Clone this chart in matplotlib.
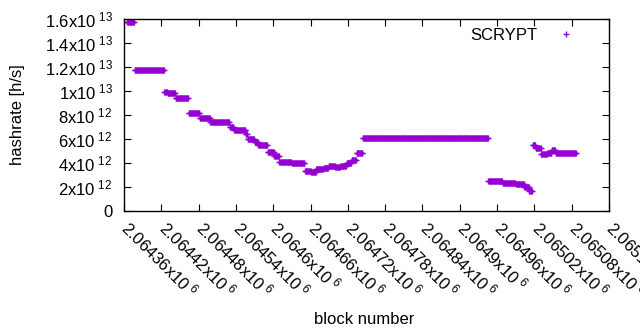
import numpy as np
import matplotlib
matplotlib.use("Agg")
import matplotlib.pyplot as plt
from matplotlib.lines import Line2D
from matplotlib.transforms import ScaledTranslation

plt.rcParams['font.family'] = ['Liberation Sans', 'DejaVu Sans']
plt.rcParams['mathtext.default'] = 'regular'

# Data: block ranges (offset from 2064360) with constant hashrate
base_block = 2064360
seg_start = [5, 17, 65, 70, 83, 104, 122, 139, 170, 177, 196, 199, 210, 216, 231, 242,
             250, 270, 291, 301, 309, 321, 329, 340, 348, 358, 366, 374, 384,
             586, 609, 630, 644, 652, 657, 662, 671, 681, 688, 694]
seg_end = [16, 64, 69, 82, 103, 121, 138, 169, 176, 195, 198, 209, 215, 230, 241, 249,
           269, 290, 300, 308, 320, 328, 339, 347, 357, 365, 373, 383, 585,
           608, 629, 643, 651, 656, 661, 670, 680, 687, 693, 727]
seg_value = [1.572e13, 1.1725e13, 9.95e12, 9.8e12, 9.39e12, 8.14e12, 7.72e12, 7.45e12,
             6.97e12, 6.75e12, 6.4e12, 5.97e12, 5.75e12, 5.5e12, 4.94e12, 4.55e12,
             4.1e12, 3.97e12, 3.36e12, 3.28e12, 3.5e12, 3.61e12, 3.78e12, 3.64e12,
             3.78e12, 3.97e12, 4.25e12, 4.8e12, 6.06e12,
             2.53e12, 2.36e12, 2.25e12, 1.97e12, 1.69e12, 5.47e12, 5.22e12, 4.72e12,
             4.83e12, 5.08e12, 4.83e12]

x_ticks = [2064360, 2064420, 2064480, 2064540, 2064600, 2064660, 2064720, 2064780,
           2064840, 2064900, 2064960, 2065020, 2065080, 2065140]
y_ticks = [0, 2e12, 4e12, 6e12, 8e12, 1e13, 1.2e13, 1.4e13, 1.6e13]

blocks = []
rates = []
for s, e, v in zip(seg_start, seg_end, seg_value):
    b = np.arange(s, e + 1) + base_block
    blocks.append(b)
    rates.append(np.full(len(b), v))
blocks = np.concatenate(blocks)
rates = np.concatenate(rates)

def sci(v):
    if v == 0:
        return "0"
    exp = int(np.floor(np.log10(abs(v)) + 1e-9))
    mant = v / 10 ** exp
    return f"{mant:.6g}x10$^{{\\ {exp}}}$"

color = '#9400d3'
fs = 12

fig = plt.figure(figsize=(6.4, 3.3), dpi=100)
ax = fig.add_axes([124 / 640, 1 - 211 / 330, (609 - 124) / 640, (211 - 19) / 330])

ax.plot(blocks, rates, linestyle='none', marker='+', color=color,
        markersize=5, markeredgewidth=1.0)

ax.set_xlim(x_ticks[0], x_ticks[-1])
ax.set_ylim(y_ticks[0], y_ticks[-1])

ax.set_yticks(y_ticks, [sci(v) for v in y_ticks], fontsize=fs)
ax.set_xticks(x_ticks, [sci(v) for v in x_ticks], fontsize=fs, rotation=-45,
              ha='left', va='top', rotation_mode='anchor')

ax.tick_params(axis='both', direction='in', length=5, width=0.8,
               top=True, right=True, colors='black')
ax.tick_params(axis='y', pad=8)
ax.tick_params(axis='x', pad=6)
shift = ScaledTranslation(8 / 100, 2 / 100, fig.dpi_scale_trans)
for lab in ax.get_xticklabels():
    lab.set_transform(lab.get_transform() + shift)
for sp in ax.spines.values():
    sp.set_linewidth(1.0)

ax.set_xlabel('block number', fontsize=fs)
ax.xaxis.set_label_coords((364 - 124) / 485, (211 - 312) / 192)
ax.set_ylabel('hashrate [h/s]', fontsize=fs)
ax.yaxis.set_label_coords((25 - 124) / 485, 0.5)

handle = Line2D([], [], linestyle='none', marker='+', color=color,
                markersize=5, markeredgewidth=1.0)
ax.legend([handle], ['SCRYPT'], loc='upper right', markerfirst=False,
          frameon=False, fontsize=fs, borderaxespad=0, handletextpad=0.7,
          bbox_to_anchor=((589 - 124) / 485, (211 - 21) / 192))

fig.savefig('out.png', dpi=100)
